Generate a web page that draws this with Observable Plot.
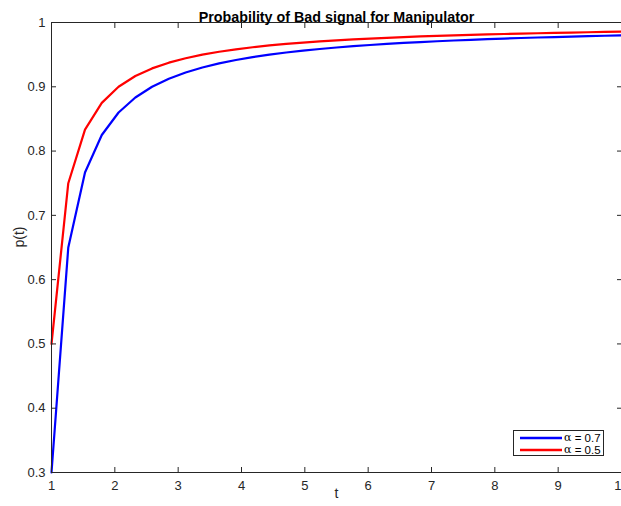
<!DOCTYPE html>
<html>
<head>
<meta charset="utf-8">
<script src="https://cdn.jsdelivr.net/npm/d3@7"></script>
<script src="https://cdn.jsdelivr.net/npm/@observablehq/plot@0.6"></script>
<style>
  html, body { margin: 0; padding: 0; background: #fff; }
  #wrap { position: relative; width: 621px; height: 506px; font-family: "Liberation Sans", Arial, Helvetica, sans-serif; }
  #legend { position: absolute; left: 513px; top: 430px; width: 91px; height: 26px; border: 1px solid #262626; background: #fff; box-sizing: border-box; }
  .row { position: absolute; left: 0; height: 12px; line-height: 12px; display: flex; align-items: center; font-size: 11.5px; color: #000; white-space: pre; }
  .row svg { display: block; margin-left: 6px; margin-right: 2px; }
  .row span { white-space: pre; line-height: 12px; }
  .row span.a { font-family: "DejaVu Serif", "Liberation Serif", serif; font-size: 11px; }
</style>
</head>
<body>
<div id="wrap"></div>
<script>
const t = [1, 1.265, 1.529, 1.794, 2.059, 2.324, 2.588, 2.853, 3.118, 3.382, 3.647, 3.912, 4.176, 4.441, 4.706, 4.971, 5.235, 5.5, 5.765, 6.029, 6.294, 6.559, 6.824, 7.088, 7.353, 7.618, 7.882, 8.147, 8.412, 8.676, 8.941, 9.206, 9.471, 9.735, 10];
const pAlpha07 = [0.3, 0.65, 0.7667, 0.825, 0.86, 0.8833, 0.9, 0.9125, 0.9222, 0.93, 0.9364, 0.9417, 0.9462, 0.95, 0.9533, 0.9563, 0.9588, 0.9611, 0.9632, 0.965, 0.9667, 0.9682, 0.9696, 0.9708, 0.972, 0.9731, 0.9741, 0.975, 0.9759, 0.9767, 0.9774, 0.9781, 0.9788, 0.9794, 0.98];
const pAlpha05 = [0.5, 0.75, 0.8333, 0.875, 0.9, 0.9167, 0.9286, 0.9375, 0.9444, 0.95, 0.9545, 0.9583, 0.9615, 0.9643, 0.9667, 0.9688, 0.9706, 0.9722, 0.9737, 0.975, 0.9762, 0.9773, 0.9783, 0.9792, 0.98, 0.9808, 0.9815, 0.9821, 0.9828, 0.9833, 0.9839, 0.9844, 0.9848, 0.9853, 0.9857];
const xTicks = [1, 2, 3, 4, 5, 6, 7, 8, 9, 10];
const yTicks = [0.3, 0.4, 0.5, 0.6, 0.7, 0.8, 0.9, 1];
const seriesNames = ["α = 0.7", "α = 0.5"];
const seriesColors = ["#0000ff", "#ff0000"];
const title = "Probability of Bad signal for Manipulator";
const xLabel = "t";
const yLabel = "p(t)";

const data07 = t.map((v, i) => ({t: v, p: pAlpha07[i]}));
const data05 = t.map((v, i) => ({t: v, p: pAlpha05[i]}));

const axisColor = "#262626";
const blank = () => "";
const chart = Plot.plot({
  width: 621,
  height: 506,
  marginTop: 22,
  marginBottom: 34,
  marginLeft: 51,
  marginRight: 0,
  style: {fontFamily: "'Liberation Sans', Arial, Helvetica, sans-serif", fontSize: "13px", color: axisColor, background: "#fff"},
  x: {domain: [1, 10]},
  y: {domain: [0.3, 1]},
  marks: [
    Plot.line(data07, {x: "t", y: "p", stroke: seriesColors[0], strokeWidth: 2.2}),
    Plot.line(data05, {x: "t", y: "p", stroke: seriesColors[1], strokeWidth: 2.2}),
    Plot.frame({stroke: axisColor, strokeWidth: 1}),
    Plot.axisX({ticks: xTicks, anchor: "bottom", tickSize: -5, tickFormat: blank, label: null, stroke: axisColor}),
    Plot.axisX({ticks: xTicks, anchor: "top", tickSize: -5, tickFormat: blank, label: null, stroke: axisColor}),
    Plot.axisY({ticks: yTicks, anchor: "left", tickSize: -5, tickFormat: blank, label: null, stroke: axisColor}),
    Plot.axisY({ticks: yTicks, anchor: "right", tickSize: -5, tickFormat: blank, label: null, stroke: axisColor}),
    Plot.axisX({ticks: xTicks, anchor: "bottom", tickSize: 0, tickPadding: 8, fill: axisColor, fontSize: 13, tickFormat: d => String(d), label: null}),
    Plot.axisY({ticks: yTicks, anchor: "left", tickSize: 0, tickPadding: 6, fill: axisColor, fontSize: 13, tickFormat: d => String(d), label: null}),
    Plot.text([title], {frameAnchor: "top", dy: -11, fontWeight: "bold", fontSize: 14.3, fill: "#000"}),
    Plot.text([xLabel], {frameAnchor: "bottom", dy: 25, fontSize: 14, fill: axisColor}),
    Plot.text([yLabel], {frameAnchor: "left", dx: -32, rotate: -90, fontSize: 14, fill: axisColor})
  ]
});
const wrap = document.getElementById("wrap");
wrap.appendChild(chart);

const legend = document.createElement("div");
legend.id = "legend";
seriesNames.forEach((name, i) => {
  const row = document.createElement("div");
  row.className = "row";
  row.style.top = (1 + i * 12) + "px";
  const svg = d3.create("svg").attr("width", 42).attr("height", 4);
  svg.append("line").attr("x1", 0).attr("x2", 42).attr("y1", 2).attr("y2", 2)
    .attr("stroke", seriesColors[i]).attr("stroke-width", 2.5);
  row.appendChild(svg.node());
  const a = document.createElement("span");
  a.className = "a";
  a.textContent = name.slice(0, 1);
  const rest = document.createElement("span");
  rest.textContent = name.slice(1);
  row.appendChild(a);
  row.appendChild(rest);
  legend.appendChild(row);
});
wrap.appendChild(legend);
</script>
</body>
</html>
